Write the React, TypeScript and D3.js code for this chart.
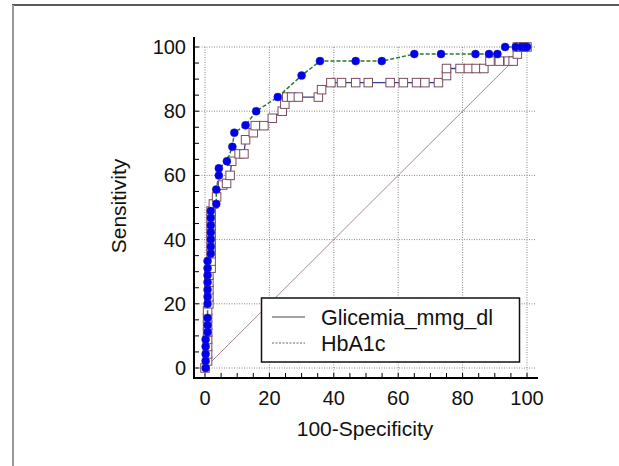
import React from "react";
import { scaleLinear, line, range } from "d3";

// ROC points: [100-Specificity, Sensitivity]
const glicemiaX = [0, 0.8, 0.8, 0.8, 0.8, 0.8, 0.8, 0.8, 0.8, 1.2, 1.2, 1.2, 1.2, 1.2, 1.9, 1.9, 1.9, 1.9, 1.9, 1.9, 1.9, 1.9, 1.9, 2.6, 3.6, 5.5, 6.7, 7.8, 8.3, 10.6, 12.1, 12.6, 15, 15.6, 18.3, 20.9, 24, 24.8, 25.4, 26.9, 29, 35.2, 36.2, 39.1, 42.4, 46.8, 50.7, 57.5, 61.6, 65.7, 68.3, 72.5, 75, 75, 79.2, 81.8, 84.2, 86.6, 88.5, 91.4, 94.2, 95.7, 97, 97, 98, 99, 100];
const glicemiaY = [0, 2.2, 4.4, 6.7, 8.9, 11.1, 13.3, 15.6, 17.8, 20, 22.2, 24.4, 26.7, 28.9, 31.1, 33.3, 35.6, 37.8, 40, 42.2, 44.4, 46.7, 48.9, 51.1, 53.3, 57, 57.5, 60, 64.4, 66.7, 66.7, 71.1, 73.3, 75.5, 75.5, 77.8, 80, 82.2, 84.4, 84.4, 84.4, 84.4, 86.7, 88.9, 88.9, 88.9, 88.9, 88.9, 88.9, 88.9, 88.9, 88.9, 91.1, 93.3, 93.3, 93.3, 93.3, 93.3, 95.6, 95.6, 95.6, 95.6, 97.8, 100, 100, 100, 100];

const hba1cX = [0.2, 0.2, 0.2, 0.2, 0.2, 0.8, 0.8, 0.8, 0.8, 0.8, 0.8, 0.8, 0.8, 0.8, 0.8, 1.8, 1.8, 1.8, 1.8, 1.8, 1.8, 1.8, 3.5, 3.5, 4.3, 4.3, 6.8, 8.5, 9.1, 12.6, 15.9, 22.6, 30, 35.7, 46.8, 54.9, 65, 73.3, 84, 88.2, 90.8, 93.2, 96.5, 98.3, 99.4, 100];
const hba1cY = [0, 2.2, 4.4, 6.7, 8.9, 11.1, 13.3, 15.6, 20, 22.2, 24.4, 26.7, 28.9, 31.1, 33.3, 35.6, 37.8, 40, 42.2, 44.4, 46.7, 48.9, 51.1, 55.6, 60, 62.2, 64.4, 68.9, 73.3, 75.6, 80, 84.4, 91.1, 95.6, 95.6, 95.6, 97.8, 97.8, 97.8, 97.8, 97.8, 100, 100, 100, 100, 100];

const majorTicks = [0, 20, 40, 60, 80, 100];
const seriesNames = ["Glicemia_mmg_dl", "HbA1c"];

const W = 619;
const H = 466;
const axisLeft = 194;
const axisBottom = 378;
const axisTop = 37;
const axisRight = 538;
const font = "'Liberation Sans', Arial, sans-serif";

export default function App() {
  const x = scaleLinear().domain([0, 100]).range([205, 527]);
  const y = scaleLinear().domain([0, 100]).range([368, 47]);

  const glicemia = glicemiaX.map((v, i) => [v, glicemiaY[i]] as [number, number]);
  const hba1c = hba1cX.map((v, i) => [v, hba1cY[i]] as [number, number]);

  const path = line<[number, number]>()
    .x((d) => x(d[0]))
    .y((d) => y(d[1]));

  const minor = range(0, 101, 5);

  return (
    <svg width={W} height={H} style={{ position: "absolute", left: 0, top: 0, background: "#fff" }}>
      {/* page frame */}
      <line x1={12} x2={W} y1={5} y2={5} stroke="#222" strokeWidth={1.5} />
      <line x1={13} x2={13} y1={5} y2={H} stroke="#999" strokeWidth={2} />

      {/* grid */}
      {majorTicks.map((t) => (
        <g key={"g" + t}>
          <line x1={x(t)} x2={x(t)} y1={y(100)} y2={axisBottom} stroke="#888" strokeWidth={1} strokeDasharray="1,1.5" />
          <line x1={axisLeft} x2={axisRight - 2} y1={y(t)} y2={y(t)} stroke="#888" strokeWidth={1} strokeDasharray="1,1.5" />
        </g>
      ))}

      {/* reference diagonal */}
      <line x1={x(0)} y1={y(0)} x2={x(100)} y2={y(100)} stroke="#a88a90" strokeWidth={1} />

      {/* Glicemia: solid line, square markers */}
      <path d={path(glicemia) || ""} fill="none" stroke="#3c3c8c" strokeWidth={1.3} />
      {glicemia.map((d, i) => (
        <rect key={"s" + i} x={x(d[0]) - 4.25} y={y(d[1]) - 4.25} width={8.5} height={8.5} fill="#fff" stroke="#7a4c5e" strokeWidth={1} />
      ))}

      {/* HbA1c: dashed green line, blue dots */}
      <path d={path(hba1c) || ""} fill="none" stroke="#2a7a2a" strokeWidth={1.5} strokeDasharray="4,2" />
      {hba1c.map((d, i) => (
        <circle key={"c" + i} cx={x(d[0])} cy={y(d[1])} r={4} fill="#0000ee" stroke="#2222aa" strokeWidth={0.5} />
      ))}

      {/* axes */}
      <line x1={axisLeft} x2={axisLeft} y1={axisTop} y2={axisBottom + 1} stroke="#000" strokeWidth={2} />
      <line x1={axisLeft - 1} x2={axisRight} y1={axisBottom} y2={axisBottom} stroke="#000" strokeWidth={2} />
      {minor.map((t) => (
        <g key={"t" + t}>
          <line x1={axisLeft} x2={axisLeft + 5} y1={y(t)} y2={y(t)} stroke="#000" strokeWidth={1} />
          <line x1={x(t)} x2={x(t)} y1={axisBottom} y2={axisBottom - 5} stroke="#000" strokeWidth={1} />
        </g>
      ))}
      {majorTicks.map((t) => (
        <g key={"l" + t} fontFamily={font} fontSize={20} fill="#111">
          <text x={186} y={y(t)} dy="0.35em" textAnchor="end">{t}</text>
          <text x={x(t)} y={405} textAnchor="middle">{t}</text>
        </g>
      ))}

      {/* axis titles */}
      <text x={365} y={436} textAnchor="middle" fontFamily={font} fontSize={21} fill="#111">100-Specificity</text>
      <text transform="translate(126,206) rotate(-90)" textAnchor="middle" fontFamily={font} fontSize={21} fill="#111">Sensitivity</text>

      {/* legend */}
      <rect x={261.5} y={298} width={258} height={64} fill="#fff" stroke="#111" strokeWidth={1.5} />
      <line x1={272} x2={305} y1={317} y2={317} stroke="#444" strokeWidth={1} />
      <line x1={272} x2={305} y1={343} y2={343} stroke="#666" strokeWidth={1} strokeDasharray="2,1.5" />
      <text x={321} y={324.5} fontFamily={font} fontSize={21.5} fill="#111">{seriesNames[0]}</text>
      <text x={321} y={350.5} fontFamily={font} fontSize={21.5} fill="#111">{seriesNames[1]}</text>
    </svg>
  );
}
